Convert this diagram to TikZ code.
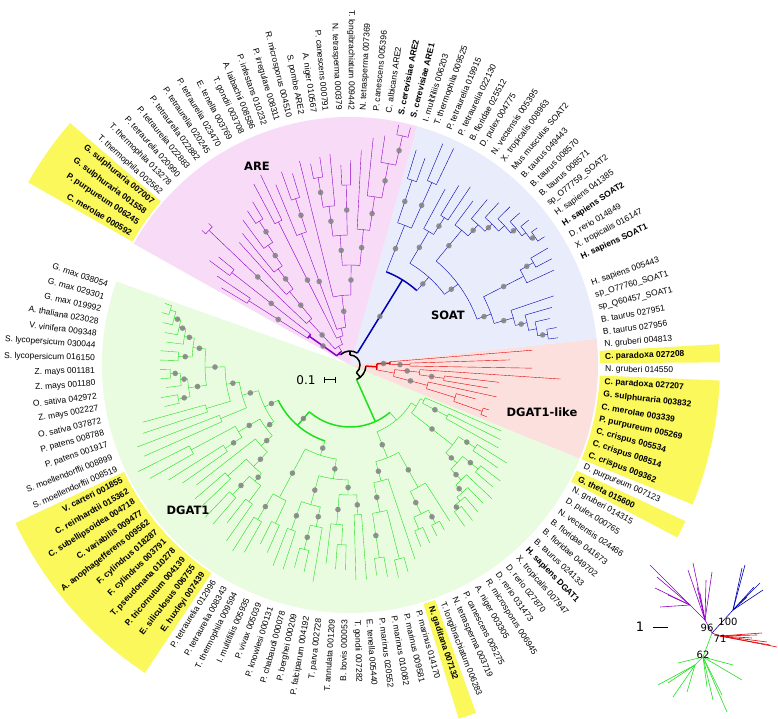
\documentclass[tikz,border=0pt]{standalone}
\usepackage{fontspec}
\setmainfont{Liberation Sans}
\newfontfamily\dvs{DejaVu Sans}
\pgfdeclarelayer{fg}
\pgfsetlayers{main,fg}
\definecolor{areC}{RGB}{247,219,247}
\definecolor{soatC}{RGB}{233,236,250}
\definecolor{likeC}{RGB}{251,224,222}
\definecolor{dgC}{RGB}{233,252,224}
\definecolor{yelC}{RGB}{250,248,90}
\definecolor{purC}{RGB}{145,0,200}
\definecolor{bluC}{RGB}{0,0,180}
\definecolor{redC}{RGB}{230,0,0}
\definecolor{grnC}{RGB}{30,225,30}
\definecolor{bsC}{RGB}{128,128,128}
\pgfmathdeclarefunction{la}{1}{\pgfmathparse{161.6+2.82*#1+3.38*(#1>77.5)}}
\newcommand\brn[5]{\draw ({la(#1)}:#4pt) -- ({la(#1)}:#5pt);\draw ({la(#2)}:#5pt) arc[start angle={la(#2)},end angle={la(#3)},radius=#5pt];}
\newcommand\brd[5]{\brn{#1}{#2}{#3}{#4}{#5}\pgfmathsetmacro\myrm{(#4+#5)/2}\pgfmathsetmacro\myam{la(#1)}\begin{pgfonlayer}{fg}\fill[bsC,opacity=0.85] (\myam:\myrm pt) circle (2.8pt);\end{pgfonlayer}}
\newcommand\Tip[3]{\draw ({la(#1)}:#2pt) -- ({la(#1)}:#3pt);}
\newcommand\lL[2]{\pgfmathsetmacro\myang{la(#1)}\pgfmathsetmacro\myrot{\myang-180}\node[lab,anchor=east,rotate=\myrot] (t#1) at (\myang:255pt) {#2};}
\newcommand\lR[2]{\pgfmathsetmacro\myang{la(#1)}\node[lab,anchor=west,rotate=\myang] (t#1) at (\myang:255pt) {#2};}
\newcommand\yel[2]{\pgfmathsetmacro\myya{la(#1-0.5)}\pgfmathsetmacro\myyb{la(#2+0.5)}\fill[yelC] (\myya:250pt) arc[start angle=\myya,end angle=\myyb,radius=250pt] -- (\myyb:370pt) arc[start angle=\myyb,end angle=\myya,radius=370pt] -- cycle;}
\newcommand\sect[4]{\pgfmathsetmacro\mysa{la(#2)}\pgfmathsetmacro\mysb{la(#3)}\fill[#1] (0,0) -- (\mysa:#4pt) arc[start angle=\mysa,end angle=\mysb,radius=#4pt] -- cycle;}
\tikzset{
  lab/.style={font=\fontsize{8.5}{10}\selectfont,inner sep=0pt},
  clab/.style={font=\dvs\bfseries\fontsize{11.5}{13}\selectfont,inner sep=0pt},
  inl/.style={font=\dvs\fontsize{10}{11}\selectfont,inner sep=0pt},
  tree/.style={line width=1.5pt},
}
\begin{document}
\begin{tikzpicture}[x=1pt,y=1pt]
\fill[white] (-350,-354) rectangle (428,365);
\useasboundingbox (-350,-354) rectangle (428,365);
% sectors
\sect{dgC}{-0.45}{62.5}{248}
\sect{likeC}{62.5}{72.5}{248}
\sect{soatC}{72.5}{95.5}{248}
\sect{areC}{95.5}{122.6}{248}
% yellow highlights
\yel{16}{26}
\yel{45}{45}
\yel{61}{61}
\yel{63}{69}
\yel{71}{71}
\yel{119}{122}
% root (black)
\begin{scope}[color=black,tree]
\draw (90:10pt) arc[start angle=90,end angle=-50,radius=10pt];
\draw (-50:10pt) -- (-50:16pt);
\draw ({la(47)}:16pt) arc[start angle={la(47)},end angle={la(68.97)},radius=16pt];
\draw (90:10pt) -- (90:14pt);
\draw ({la(89.85)}:14pt) arc[start angle={la(89.85)},end angle={la(116.35)},radius=14pt];
\end{scope}
% DGAT1 green
\begin{scope}[color=grnC,tree]
\brn{47}{23.9}{52.66}{16}{62}
\brd{23.9}{15.79}{32}{62}{80}
\brd{15.79}{12.08}{19.5}{80}{95}
\brd{12.08}{9.66}{14.5}{95}{112}
\brd{9.66}{6.83}{12.5}{112}{125}
\brd{6.83}{4.28}{9.375}{125}{145}
\brd{4.28}{3.06}{5.5}{145}{158}
\brd{3.06}{2.125}{4}{158}{168}\Tip{4}{168}{185}
\brd{2.125}{1.25}{3}{168}{175}\Tip{3}{175}{188}
\brd{1.25}{0.5}{2}{175}{182}\Tip{2}{182}{192}
\brn{0.5}{0}{1}{182}{188}\Tip{0}{188}{195}\Tip{1}{188}{195}
\brd{5.5}{5}{6}{158}{172}\Tip{5}{172}{190}\Tip{6}{172}{190}
\brd{9.375}{8.25}{10.5}{145}{163}
\brd{8.25}{7.5}{9}{163}{170}\Tip{9}{170}{185}
\brd{7.5}{7}{8}{170}{180}\Tip{7}{180}{190}\Tip{8}{180}{190}
\brd{10.5}{10}{11}{163}{175}\Tip{10}{175}{192}\Tip{11}{175}{190}
\brn{12.5}{12}{13}{125}{150}\Tip{12}{150}{215}\Tip{13}{150}{218}
\brn{14.5}{14}{15}{112}{140}\Tip{14}{140}{228}\Tip{15}{140}{225}
\brd{19.5}{17.5}{21.5}{95}{105}
\brd{17.5}{16.5}{18.5}{105}{130}
\brn{16.5}{16}{17}{130}{180}\Tip{16}{180}{237}\Tip{17}{180}{230}
\brd{18.5}{18}{19}{130}{150}\Tip{18}{150}{215}\Tip{19}{150}{205}
\brd{21.5}{20}{23}{105}{120}\Tip{20}{120}{195}
\brd{23}{21.5}{24.5}{120}{140}
\brn{21.5}{21}{22}{140}{165}\Tip{21}{165}{205}\Tip{22}{165}{205}
\brd{24.5}{23.5}{25.5}{140}{150}
\brd{23.5}{23}{24}{150}{175}\Tip{23}{175}{210}\Tip{24}{175}{210}
\brn{25.5}{25}{26}{150}{170}\Tip{25}{170}{200}\Tip{26}{170}{215}
\brd{32}{28.5}{35.5}{80}{95}
\brd{28.5}{27.5}{29.5}{95}{150}
\brd{27.5}{27}{28}{150}{180}\Tip{27}{180}{220}\Tip{28}{180}{215}
\brn{29.5}{29}{30}{150}{175}\Tip{29}{175}{200}\Tip{30}{175}{205}
\brd{35.5}{32.875}{38.125}{95}{115}
\brd{32.875}{31.5}{34.25}{115}{145}
\brd{31.5}{31}{32}{145}{175}\Tip{31}{175}{215}\Tip{32}{175}{215}
\brd{34.25}{33.5}{35}{145}{165}\Tip{35}{165}{220}
\brd{33.5}{33}{34}{165}{190}\Tip{33}{190}{210}\Tip{34}{190}{212}
\brd{38.125}{36.75}{39.5}{115}{130}
\brd{36.75}{36}{37.5}{130}{160}\Tip{36}{160}{200}
\brn{37.5}{37}{38}{160}{180}\Tip{37}{180}{205}\Tip{38}{180}{205}
\brd{39.5}{39}{40}{130}{150}\Tip{39}{150}{215}\Tip{40}{150}{215}
\brn{52.66}{46.25}{59.07}{62}{72}
\brd{46.25}{43.75}{48.75}{72}{100}
\brd{43.75}{42.5}{45}{100}{120}\Tip{45}{120}{205}
\brd{42.5}{41.5}{43.5}{120}{150}
\brn{43.5}{43}{44}{150}{200}\Tip{43}{200}{218}\Tip{44}{200}{215}
\brd{41.5}{41}{42}{150}{195}\Tip{41}{195}{212}\Tip{42}{195}{215}
\brd{48.75}{47.5}{50}{100}{140}\Tip{50}{140}{185}
\brd{47.5}{46.5}{48.5}{140}{165}
\brd{48.5}{48}{49}{165}{180}\Tip{48}{180}{192}\Tip{49}{180}{190}
\brn{46.5}{46}{47}{165}{178}\Tip{46}{178}{195}\Tip{47}{178}{195}
\brn{59.07}{56.89}{61.25}{72}{78}
\brd{56.89}{55.28}{58.5}{78}{130}
\brd{55.28}{54.06}{56.5}{130}{145}
\brd{54.06}{53.125}{55}{145}{160}\Tip{55}{160}{195}
\brd{53.125}{52.25}{54}{160}{170}\Tip{54}{170}{192}
\brn{52.25}{51.5}{53}{170}{175}\Tip{53}{175}{195}
\brd{51.5}{51}{52}{175}{180}\Tip{51}{180}{198}\Tip{52}{180}{198}
\brd{56.5}{56}{57}{145}{165}\Tip{56}{165}{188}\Tip{57}{165}{190}
\brd{58.5}{58}{59}{130}{150}\Tip{58}{150}{180}\Tip{59}{150}{185}
\brn{61.25}{60.5}{62}{78}{82}\Tip{62}{82}{165}
\brd{60.5}{60}{61}{82}{110}\Tip{60}{110}{170}\Tip{61}{110}{168}
\end{scope}
% DGAT1-like red
\begin{scope}[color=redC,tree]
\brn{68.97}{66.6875}{71.25}{16}{27}
\brd{71.25}{70.5}{72}{27}{40}\Tip{72}{40}{183}
\brd{70.5}{70}{71}{40}{60}\Tip{70}{60}{182}\Tip{71}{60}{160}
\brn{66.6875}{65.125}{68.25}{27}{45}
\brd{68.25}{67.5}{69}{45}{70}\Tip{69}{70}{211}
\brd{67.5}{67}{68}{70}{95}\Tip{67}{95}{140}\Tip{68}{95}{150}
\brd{65.125}{64.25}{66}{45}{80}\Tip{66}{80}{150}
\brn{64.25}{63.5}{65}{80}{110}\Tip{65}{110}{130}
\brn{63.5}{63}{64}{110}{140}\Tip{63}{140}{146}\Tip{64}{140}{146}
\end{scope}
% SOAT blue
\begin{scope}[color=bluC,tree]
\brd{89.85}{86.2}{93.5}{14}{100}
\brd{93.5}{92.5}{94.5}{100}{150}
\brd{94.5}{94}{95}{150}{195}\Tip{94}{195}{220}\Tip{95}{195}{225}
\brd{92.5}{92}{93}{150}{200}\Tip{92}{200}{240}\Tip{93}{200}{240}
\brd{86.2}{82.2}{90.25}{100}{118}
\brd{90.25}{89.5}{91}{118}{155}\Tip{91}{155}{200}
\brd{89.5}{89}{90}{155}{175}\Tip{89}{175}{215}\Tip{90}{175}{210}
\brd{82.2}{77.4}{87.01}{118}{135}
\brd{87.01}{86.02}{88}{135}{175}\Tip{88}{175}{205}
\brd{86.02}{85.03}{87}{175}{190}\Tip{87}{190}{215}
\brd{85.03}{84.06}{86}{190}{200}\Tip{86}{200}{220}
\brn{84.06}{83.125}{85}{200}{208}\Tip{85}{208}{225}
\brd{83.125}{82.25}{84}{208}{215}\Tip{84}{215}{228}
\brn{82.25}{81.5}{83}{215}{220}\Tip{83}{220}{230}
\brd{81.5}{81}{82}{220}{225}\Tip{81}{225}{233}\Tip{82}{225}{232}
\brd{77.4}{76.06}{78.75}{135}{150}
\brd{78.75}{78}{79.5}{150}{195}\Tip{78}{195}{225}
\brd{79.5}{79}{80}{195}{210}\Tip{79}{210}{228}\Tip{80}{210}{230}
\brd{76.06}{75.125}{77}{150}{170}\Tip{77}{170}{215}
\brd{75.125}{74.25}{76}{170}{182}\Tip{76}{182}{210}
\brn{74.25}{73.5}{75}{182}{190}\Tip{75}{190}{205}
\brd{73.5}{73}{74}{190}{200}\Tip{73}{200}{210}\Tip{74}{200}{210}
\end{scope}
% ARE purple
\begin{scope}[color=purC,tree]
\brn{116.35}{112.2}{120.5}{14}{16}
\brd{120.5}{119.5}{121.5}{16}{50}
\brd{119.5}{119}{120}{50}{150}\Tip{119}{150}{170}\Tip{120}{150}{175}
\brd{121.5}{121}{122}{50}{120}\Tip{121}{120}{160}\Tip{122}{120}{150}
\brn{112.2}{108.17}{116.28}{16}{22}
\brd{116.28}{115.06}{117.5}{22}{60}
\brd{117.5}{117}{118}{60}{195}\Tip{117}{195}{200}\Tip{118}{195}{200}
\brd{115.06}{114.125}{116}{60}{95}\Tip{116}{95}{165}
\brd{114.125}{113.25}{115}{95}{120}\Tip{115}{120}{170}
\brd{113.25}{112.5}{114}{120}{145}\Tip{114}{145}{180}
\brd{112.5}{112}{113}{145}{170}\Tip{112}{170}{190}\Tip{113}{170}{185}
\brn{108.17}{105.84}{110.5}{22}{30}
\brd{110.5}{110}{111}{30}{160}\Tip{110}{160}{210}\Tip{111}{160}{205}
\brn{105.84}{103.42}{108.25}{30}{38}
\brd{108.25}{107.5}{109}{38}{140}\Tip{109}{140}{195}
\brd{107.5}{107}{108}{140}{175}\Tip{107}{175}{200}\Tip{108}{175}{205}
\brd{103.42}{100.84}{106}{38}{70}\Tip{106}{70}{210}
\brd{100.84}{99.06}{102.625}{70}{100}
\brd{99.06}{98.125}{100}{100}{136}\Tip{100}{136}{215}
\brd{98.125}{97.25}{99}{136}{170}\Tip{99}{170}{228}
\brd{97.25}{96.5}{98}{170}{205}\Tip{98}{205}{232}
\brd{96.5}{96}{97}{205}{235}\Tip{96}{235}{245}\Tip{97}{235}{245}
\brd{102.625}{101.5}{103.75}{100}{130}
\brd{101.5}{101}{102}{130}{180}\Tip{101}{180}{205}\Tip{102}{180}{200}
\brd{103.75}{103}{104.5}{130}{160}\Tip{103}{160}{212}
\brd{104.5}{104}{105}{160}{190}\Tip{104}{190}{210}\Tip{105}{190}{205}
\end{scope}
% labels
\lL{0}{G. max 038054}
\lL{1}{G. max 029301}
\lL{2}{G. max 019992}
\lL{3}{A. thaliana 023028}
\lL{4}{V. vinifera 009348}
\lL{5}{S. lycopersicum 030044}
\lL{6}{S. lycopersicum 016150}
\lL{7}{Z. mays 001181}
\lL{8}{Z. mays 001180}
\lL{9}{O. sativa 042972}
\lL{10}{Z. mays 002227}
\lL{11}{O. sativa 037872}
\lL{12}{P. patens 008788}
\lL{13}{P. patens 001917}
\lL{14}{S. moellendorffii 008899}
\lL{15}{S. moellendorffii 008519}
\lL{16}{\bfseries V. carteri 001855}
\lL{17}{\bfseries C. reinhardtii 015362}
\lL{18}{\bfseries C. subellipsoidea 004718}
\lL{19}{\bfseries C. variabilis 009477}
\lL{20}{\bfseries A. anophagefferens 009562}
\lL{21}{\bfseries F. cylindrus 018287}
\lL{22}{\bfseries F. cylindrus 003791}
\lL{23}{\bfseries T. pseudonana 010278}
\lL{24}{\bfseries P. tricornutum 004139}
\lL{25}{\bfseries E. siliculosus 006755}
\lL{26}{\bfseries E. huxleyi 007439}
\lL{27}{P. tetraurelia 012996}
\lL{28}{P. tetraurelia 008343}
\lL{29}{T. thermophila 009594}
\lL{30}{I. multifiliis 005935}
\lL{31}{P. vivax 005039}
\lL{32}{P. knowlesi 000131}
\lL{33}{P. chabaudi 000078}
\lL{34}{P. berghei 000209}
\lL{35}{P. falciparum 004192}
\lL{36}{T. parva 002728}
\lL{37}{T. annulata 001209}
\lL{38}{B. bovis 000053}
\lR{39}{T. gondii 007282}
\lR{40}{E. tenella 005440}
\lR{41}{P. marinus 020552}
\lR{42}{P. marinus 010082}
\lR{43}{P. marinus 009581}
\lR{44}{P. marinus 014170}
\lR{45}{\bfseries N. gaditana 007132}
\lR{46}{T. longibrachiatum 006283}
\lR{47}{N. tetrasperma 003719}
\lR{48}{P. canescens 005275}
\lR{49}{A. niger 003305}
\lR{50}{R. microsporus 006945}
\lR{51}{D. rerio 031473}
\lR{52}{D. rerio 027870}
\lR{53}{X. tropicalis 007947}
\lR{54}{\bfseries H. sapiens DGAT1}
\lR{55}{B. taurus 024133}
\lR{56}{B. floridae 049702}
\lR{57}{B. floridae 041673}
\lR{58}{N. vectensis 024466}
\lR{59}{D. pulex 000765}
\lR{60}{N. gruberi 014315}
\lR{61}{\bfseries G. theta 015600}
\lR{62}{D. purpureum 007123}
\lR{63}{\bfseries C. crispus 009362}
\lR{64}{\bfseries C. crispus 008514}
\lR{65}{\bfseries C. crispus 005534}
\lR{66}{\bfseries P. purpureum 005269}
\lR{67}{\bfseries C. merolae 003339}
\lR{68}{\bfseries G. sulphuraria 003832}
\lR{69}{\bfseries C. paradoxa 027207}
\lR{70}{N. gruberi 014550}
\lR{71}{\bfseries C. paradoxa 027208}
\lR{72}{N. gruberi 004813}
\lR{73}{B. taurus 027956}
\lR{74}{B. taurus 027951}
\lR{75}{sp\_Q60457\_SOAT1}
\lR{76}{sp\_O77760\_SOAT1}
\lR{77}{H. sapiens 005443}
\lR{78}{\bfseries H. sapiens SOAT1}
\lR{79}{X. tropicalis 016147}
\lR{80}{D. rerio 014849}
\lR{81}{\bfseries H. sapiens SOAT2}
\lR{82}{H. sapiens 041385}
\lR{83}{sp\_O77759\_SOAT2}
\lR{84}{B. taurus 008571}
\lR{85}{B. taurus 008570}
\lR{86}{B. taurus 049443}
\lR{87}{Mus musculus SOAT2}
\lR{88}{X. tropicalis 008963}
\lR{89}{N. vectensis 005395}
\lR{90}{D. pulex 004775}
\lR{91}{B. floridae 025512}
\lR{92}{P. tetraurelia 022130}
\lR{93}{P. tetraurelia 019915}
\lR{94}{T. thermophila 009525}
\lR{95}{I. multifiliis 006203}
\lR{96}{\bfseries S. cerevisiae ARE1}
\lR{97}{\bfseries S. cerevisiae ARE2}
\lR{98}{C. albicans ARE2}
\lR{99}{P. canescens 005396}
\lR{100}{N. tetrasperma 007369}
\lL{101}{T. longibrachiatum 009442}
\lL{102}{N. tetrasperma 000379}
\lL{103}{P. canescens 000791}
\lL{104}{A. niger 010567}
\lL{105}{S. pombe ARE2}
\lL{106}{R. microsporus 004510}
\lL{107}{P. irregulare 008311}
\lL{108}{P. infestans 010232}
\lL{109}{A. laibachii 008586}
\lL{110}{T. gondii 003708}
\lL{111}{E. tenella 003769}
\lL{112}{P. tetraurelia 023470}
\lL{113}{P. tetraurelia 020245}
\lL{114}{P. tetraurelia 022882}
\lL{115}{P. tetraurelia 022883}
\lL{116}{P. tetraurelia 020990}
\lL{117}{T. thermophila 013278}
\lL{118}{T. thermophila 002562}
\lL{119}{\bfseries G. sulphuraria 007007}
\lL{120}{\bfseries G. sulphuraria 001558}
\lL{121}{\bfseries P. purpureum 006245}
\lL{122}{\bfseries C. merolae 000592}
% clade labels
\node[clab] (cARE) at (-93,199) {ARE};
\node[clab] (cSOAT) at (98,50) {SOAT};
\node[clab] (cLIKE) at (192,-47) {DGAT1-like};
\node[clab] (cDG) at (-162,-145) {DGAT1};
% scale bar
\node[font=\dvs\fontsize{12}{13}\selectfont,inner sep=0pt] (sc) at (-44,-15) {0.1};
\coordinate (sa) at (-26,-15);
\coordinate (sb) at (-15,-15);
\draw[line width=1pt] (sa) -- (sb);
\draw[line width=1pt] ([yshift=3pt]sa) -- ([yshift=-3pt]sa);
\draw[line width=1pt] ([yshift=3pt]sb) -- ([yshift=-3pt]sb);
% inset
\coordinate (J) at (362,-268);
\coordinate (Jp) at (355,-255);
\coordinate (Jp2) at (340,-240);
\coordinate (Jb) at (383,-245);
\coordinate (Jr) at (370,-271);
\coordinate (Jg) at (353,-292);
\coordinate (Jg2) at (345,-300);
\begin{scope}[line width=0.6pt]
\draw[purC] (J) -- (Jp) -- (Jp2);
\foreach \p in {(300,-200),(305,-223),(310,-242),(307,-212),(318,-230)} \draw[purC] (Jp2) -- \p;
\foreach \p in {(343,-198),(362,-207),(350,-228),(347,-222),(356,-215),(338,-205)} \draw[purC] (Jp) -- \p;
\draw[bluC] (J) -- (Jb);
\foreach \p in {(395,-200),(392,-203),(413,-225),(410,-218),(397,-232),(404,-222)} \draw[bluC] (Jb) -- \p;
\draw[redC] (J) -- (Jr);
\foreach \p in {(427,-282),(407,-270),(417,-277),(402,-273),(420,-280),(412,-268)} \draw[redC] (Jr) -- \p;
\draw[grnC] (J) -- (Jg);
\foreach \p in {(328,-298),(357,-322),(363,-335),(377,-347),(392,-315),(383,-300),(372,-330)} \draw[grnC] (Jg) -- \p;
\foreach \p in {(308,-320),(323,-332),(337,-327),(318,-318)} \draw[grnC] (Jg2) -- \p;
\draw[grnC] (Jg) -- (Jg2);
\end{scope}
\node[inl] (n96) at (357,-263) {96};
\node[inl] (n100) at (378,-257) {100};
\node[inl] (n71) at (370,-274) {71};
\node[inl] (n62) at (353,-290) {62};
\node[font=\dvs\fontsize{13}{14}\selectfont,inner sep=0pt] (n1) at (290,-262) {1};
\coordinate (ia) at (303,-262);
\coordinate (ib) at (318,-262);
\draw[line width=1pt] (ia) -- (ib);
\end{tikzpicture}
\end{document}
